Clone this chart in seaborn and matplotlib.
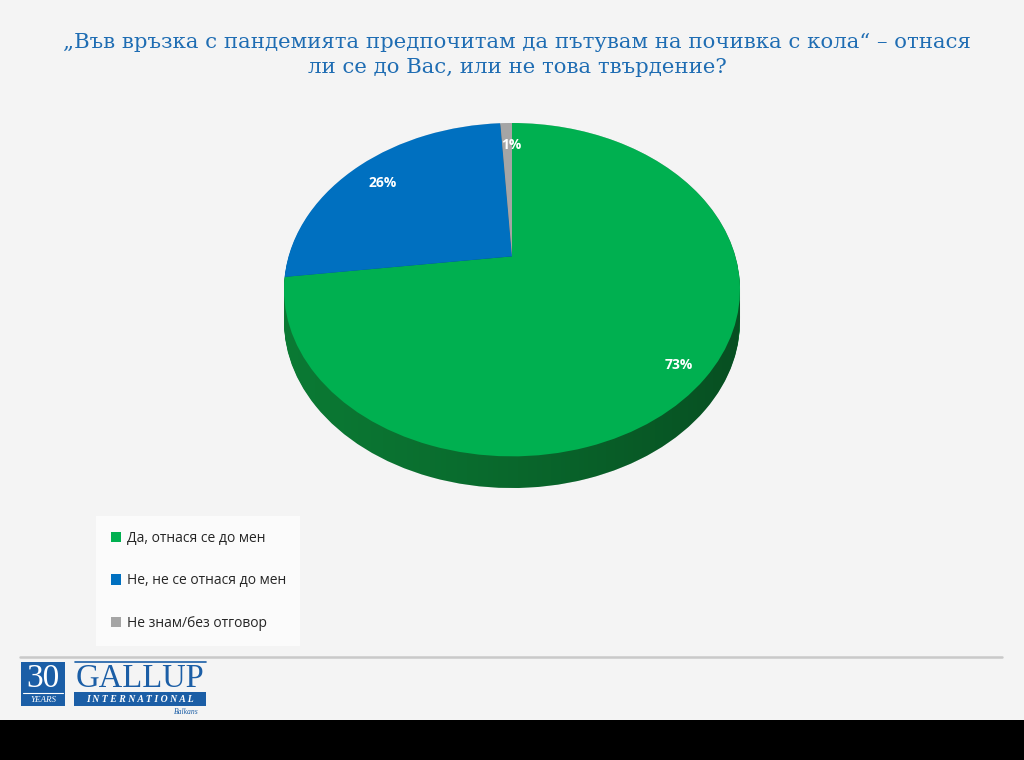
import matplotlib
matplotlib.use("Agg")
import numpy as np
import matplotlib.pyplot as plt
import seaborn as sns
from matplotlib.patches import Rectangle, Polygon
from matplotlib.transforms import Transform, Affine2D

# data
labels = ["Да, отнася се до мен", "Не, не се отнася до мен", "Не знам/без отговор"]
values = [73, 26, 1]
top_colors = ["#00b050", "#0070c0", "#a5a5a5"]
side_colors = ["#0b7a34", "#05508a", "#777777"]
title = ("„Във връзка с пандемията предпочитам да пътувам на почивка с кола“ – отнася\n"
         "ли се до Вас, или не това твърдение?")


class Tilt(Transform):
    """projective map of the unit disc onto itself, moves the centre up (3d look)"""
    input_dims = output_dims = 2
    is_separable = False
    has_inverse = False

    def __init__(self, a):
        super().__init__()
        self.a = a

    def transform_non_affine(self, xy):
        xy = np.asarray(xy, dtype=float)
        u, v = xy[:, 0], xy[:, 1]
        w = 1 + self.a * v
        return np.column_stack([u * np.sqrt(1 - self.a ** 2) / w, (v + self.a) / w])


sns.set_theme(style="white")
plt.rcParams["font.family"] = ["Open Sans", "DejaVu Sans"]

W, H = 1024, 760
fig = plt.figure(figsize=(W / 100, H / 100), dpi=100)
fig.patch.set_facecolor("#f4f4f4")


def fx(px):
    return px / W


def fy(py):
    return 1 - py / H


# bottom black band and separator line
fig.patches.append(Rectangle((0, 0), 1, fy(720), transform=fig.transFigure,
                             facecolor="black", edgecolor="none", zorder=0))
fig.add_artist(plt.Line2D([fx(20), fx(1002)], [fy(657), fy(657)],
                          transform=fig.transFigure, color="#c9c9c9", lw=1.8))

# title
fig.text(0.505, fy(55), title, ha="center", va="center", fontsize=15.3,
         color="#1f6db3", family=["DejaVu Serif"], linespacing=1.4)

# pie axes: ellipse top face with depth
depth = 0.19
tilt = Tilt(0.2)
ax = fig.add_axes([fx(284), fy(488), fx(740) - fx(284), (488 - 123) / H])

n_layers = 30
for i in range(n_layers, 0, -1):
    off = depth * i / n_layers
    side, _ = ax.pie(values, colors=side_colors, startangle=90, counterclock=False,
                     radius=1, frame=True, wedgeprops=dict(linewidth=0, zorder=1))
    for w in side:
        w.set_transform(tilt + Affine2D().translate(0, -off) + ax.transData)

# shading of the side, darker to the right
xs = np.linspace(-1, 1, 200)
hull = np.vstack([np.column_stack([xs, np.sqrt(1 - xs ** 2)]),
                  np.column_stack([xs[::-1], -np.sqrt(1 - xs[::-1] ** 2) - depth])])
clip = Polygon(hull, closed=True, transform=ax.transData, facecolor="none", edgecolor="none")
ax.add_patch(clip)
shade = np.zeros((2, 256, 4))
shade[..., 3] = np.linspace(0.02, 0.45, 256) ** 1.3
img = ax.imshow(shade, extent=(-1, 1, -1 - depth, 1), aspect="auto", zorder=1.5,
                interpolation="bilinear")
img.set_clip_path(clip)

wedges, _, autotexts = ax.pie(values, colors=top_colors, startangle=90, counterclock=False,
                              radius=1, frame=True,
                              autopct="%1.0f%%", pctdistance=0.86,
                              wedgeprops=dict(linewidth=0, zorder=2),
                              textprops=dict(color="white", fontsize=10, fontweight="bold",
                                             zorder=3))
for w in wedges:
    w.set_transform(tilt + ax.transData)
for t in autotexts:
    px, py = tilt.transform(np.array([t.get_position()]))[0]
    t.set_position((px + 0.02, py - 0.035))

ax.set_aspect("auto")
ax.set_xlim(-1, 1)
ax.set_ylim(-1 - depth, 1)
ax.axis("off")

# legend
leg = fig.legend(wedges, labels, loc="upper left",
                 bbox_to_anchor=(fx(96), fy(516)), frameon=True,
                 fancybox=False, facecolor="#fbfbfb", edgecolor="none",
                 framealpha=1, fontsize=10, labelspacing=2.0,
                 handlelength=0.75, handleheight=0.75, handletextpad=0.4,
                 borderpad=1.05, borderaxespad=0)
for t in leg.get_texts():
    t.set_color("#262626")

# logo
logo_blue = "#1b5ea6"
fig.patches.append(Rectangle((fx(21), fy(706)), fx(44), (706 - 662) / H,
                             transform=fig.transFigure, facecolor=logo_blue, edgecolor="none"))
fig.text(fx(43), fy(679), "30", ha="center", va="center", color="white",
         fontsize=24, family=["Liberation Serif"])
fig.add_artist(plt.Line2D([fx(23), fx(63)], [fy(693), fy(693)], transform=fig.transFigure,
                          color="white", lw=0.8))
fig.text(fx(43), fy(700), "YEARS", ha="center", va="center", color="white",
         fontsize=6.5, style="italic", family=["Liberation Serif"])
fig.add_artist(plt.Line2D([fx(75), fx(206)], [fy(662), fy(662)], transform=fig.transFigure,
                          color=logo_blue, lw=1.2))
fig.text(fx(140), fy(679), "GALLUP", ha="center", va="center", color=logo_blue,
         fontsize=23.5, family=["Liberation Serif"])
fig.patches.append(Rectangle((fx(74), fy(706)), fx(132), (706 - 692) / H,
                             transform=fig.transFigure, facecolor=logo_blue, edgecolor="none"))
fig.text(fx(140), fy(699), "I N T E R N A T I O N A L", ha="center", va="center",
         color="white", fontsize=7, style="italic", fontweight="bold",
         family=["Liberation Serif"])
fig.text(fx(186), fy(712), "Balkans", ha="center", va="center", color=logo_blue,
         fontsize=5.5, style="italic", family=["Liberation Serif"])

fig.savefig("out.png", dpi=100, facecolor=fig.get_facecolor())
